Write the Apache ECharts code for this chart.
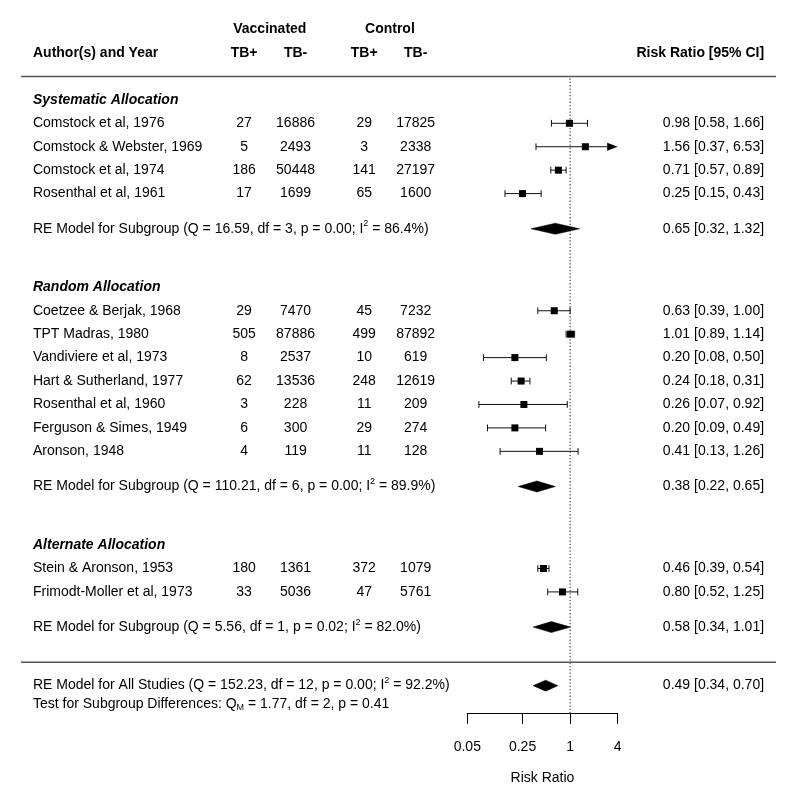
<!DOCTYPE html>
<html><head><meta charset="utf-8">
<script src="https://cdn.jsdelivr.net/npm/echarts@6/dist/echarts.min.js"></script>
<style>html,body{margin:0;padding:0;background:#fff}#c{width:800px;height:812px}</style>
</head><body><div id="c"></div>
<script>
// ---------------- data ----------------
const groups = ["Systematic Allocation", "Random Allocation", "Alternate Allocation"];
const authors = ["Comstock et al, 1976", "Comstock & Webster, 1969", "Comstock et al, 1974", "Rosenthal et al, 1961",
  "Coetzee & Berjak, 1968", "TPT Madras, 1980", "Vandiviere et al, 1973", "Hart & Sutherland, 1977",
  "Rosenthal et al, 1960", "Ferguson & Simes, 1949", "Aronson, 1948",
  "Stein & Aronson, 1953", "Frimodt-Moller et al, 1973"];
const vaccTBpos = [27, 5, 186, 17, 29, 505, 8, 62, 3, 6, 4, 180, 33];
const vaccTBneg = [16886, 2493, 50448, 1699, 7470, 87886, 2537, 13536, 228, 300, 119, 1361, 5036];
const ctrlTBpos = [29, 3, 141, 65, 45, 499, 10, 248, 11, 29, 11, 372, 47];
const ctrlTBneg = [17825, 2338, 27197, 1600, 7232, 87892, 619, 12619, 209, 274, 128, 1079, 5761];
const riskRatio = [0.98, 1.56, 0.71, 0.25, 0.63, 1.01, 0.20, 0.24, 0.26, 0.20, 0.41, 0.46, 0.80];
const ciLower   = [0.58, 0.37, 0.57, 0.15, 0.39, 0.89, 0.08, 0.18, 0.07, 0.09, 0.13, 0.39, 0.52];
const ciUpper   = [1.66, 6.53, 0.89, 0.43, 1.00, 1.14, 0.50, 0.31, 0.92, 0.49, 1.26, 0.54, 1.25];
const subRR    = [0.65, 0.38, 0.58];
const subLower = [0.32, 0.22, 0.34];
const subUpper = [1.32, 0.65, 1.01];
const subQ  = [16.59, 110.21, 5.56];
const subDf = [3, 6, 1];
const subP  = [0.00, 0.00, 0.02];
const subI2 = [86.4, 89.9, 82.0];
const allRR = 0.49, allLower = 0.34, allUpper = 0.70;
const allQ = 152.23, allDf = 12, allP = 0.00, allI2 = 92.2;
const testQM = 1.77, testDf = 2, testP = 0.41;
const axisTicks = [0.05, 0.25, 1, 4];
const colHeaders = ["TB+", "TB-", "TB+", "TB-"];
const armHeaders = ["Vaccinated", "Control"];

// ---------------- layout ----------------
const L = {
  rowY0: 662.2, rowH: 23.43, axisY: 713.4, yMax: 27.6,
  ax0: 467.3, ax1: 617.7, xMin: -16, xMax: 6,
  studyRows: [23, 22, 21, 20, 15, 14, 13, 12, 11, 10, 9, 4, 3],
  groupRows: [24, 16, 5], subRows: [18.5, 7.5, 1.5],
  allRow: -1, testRow: -1.8, headRow: 26, armRow: 27, ruleRows: [25, 0], refTop: 25,
  ilabX: [-9.5, -8, -6, -4.5], armX: [-8.75, -5.25],
  pad: 12, fs: 14, sq: 7, cap: 3.4, arrowLen: 10.5, arrowHalf: 3.9, diaHalf: 5.5
};
L.yMin = -(L.axisY - L.rowY0) / L.rowH;
const FONT = '"Liberation Sans", Arial, Helvetica, sans-serif';
const lnMin = Math.log(axisTicks[0]), lnMax = Math.log(axisTicks[axisTicks.length - 1]);
const SC = (L.ax1 - L.ax0) / (lnMax - lnMin);
const g0Left = L.ax0 - (lnMin - L.xMin) * SC;
const g0Width = (L.xMax - L.xMin) * SC;
const gTop = L.rowY0 - L.yMax * L.rowH;
const gHeight = (L.yMax - L.yMin) * L.rowH;
const tickLn = axisTicks.map(Math.log);

const f2 = v => v.toFixed(2);
const ciText = (e, lo, hi) => f2(e) + " [" + f2(lo) + ", " + f2(hi) + "]";

// ---------------- text items ----------------
const texts = [];
function addText(x, row, text, align, opts) { texts.push(Object.assign({x, row, text, align}, opts || {})); }
armHeaders.forEach((t, i) => addText(L.armX[i], L.armRow, t, 'center', {bold: true}));
colHeaders.forEach((t, i) => addText(L.ilabX[i], L.headRow, t, 'center', {bold: true}));
addText(L.xMin, L.headRow, "Author(s) and Year", 'left', {bold: true, dx: L.pad});
addText(L.xMax, L.headRow, "Risk Ratio [95% CI]", 'right', {bold: true, dx: -L.pad});
groups.forEach((g, i) => addText(L.xMin, L.groupRows[i], g, 'left', {bold: true, italic: true, dx: L.pad}));
authors.forEach((a, i) => {
  const r = L.studyRows[i];
  addText(L.xMin, r, a, 'left', {dx: L.pad});
  [vaccTBpos, vaccTBneg, ctrlTBpos, ctrlTBneg].forEach((arr, j) => addText(L.ilabX[j], r, String(arr[i]), 'center'));
  addText(L.xMax, r, ciText(riskRatio[i], ciLower[i], ciUpper[i]), 'right', {dx: -L.pad});
});
subRR.forEach((v, i) => {
  const r = L.subRows[i];
  addText(L.xMin, r, "RE Model for Subgroup (Q = " + f2(subQ[i]) + ", df = " + subDf[i] + ", p = " + f2(subP[i]) +
    "; I{sup|2} = " + subI2[i].toFixed(1) + "%)", 'left', {dx: L.pad});
  addText(L.xMax, r, ciText(v, subLower[i], subUpper[i]), 'right', {dx: -L.pad});
});
addText(L.xMin, L.allRow, "RE Model for All Studies (Q = " + f2(allQ) + ", df = " + allDf + ", p = " + f2(allP) +
  "; I{sup|2} = " + allI2.toFixed(1) + "%)", 'left', {dx: L.pad});
addText(L.xMax, L.allRow, ciText(allRR, allLower, allUpper), 'right', {dx: -L.pad});
addText(L.xMin, L.testRow, "Test for Subgroup Differences: Q{sub|M} = " + f2(testQM) + ", df = " + testDf + ", p = " + f2(testP), 'left', {dx: L.pad});

const RICH = {
  sup: {fontSize: 9, fontFamily: FONT, fill: '#000', color: '#000', padding: [0, 0, 10, 0]},
  sub: {fontSize: 9, fontFamily: FONT, fill: '#000', color: '#000', padding: [6, 0, 0, 0]}
};

function renderText(params, api) {
  const t = texts[api.value(2)];
  const p = api.coord([api.value(0), api.value(1)]);
  const style = {
    text: t.text, fill: '#000', fontFamily: FONT, fontSize: L.fs,
    fontWeight: t.bold ? 'bold' : 'normal', fontStyle: t.italic ? 'italic' : 'normal',
    align: t.align, verticalAlign: 'middle'
  };
  if (t.text.indexOf('{') >= 0) style.rich = RICH;
  return {type: 'text', x: p[0] + (t.dx || 0), y: p[1], style};
}

function renderRule(params, api) {
  const r = api.value(0);
  const a = api.coord([L.xMin, r]), b = api.coord([L.xMax, r]);
  return {type: 'line', shape: {x1: a[0], y1: a[1], x2: b[0], y2: b[1]}, style: {stroke: '#555', lineWidth: 1.5}};
}

function renderStudy(params, api) {
  const est = api.value(0), row = api.value(1), lo = api.value(2), hi = api.value(3);
  const loC = Math.max(lo, lnMin), hiC = Math.min(hi, lnMax);
  const pE = api.coord([est, row]), pL = api.coord([loC, row]), pH = api.coord([hiC, row]);
  const y = pE[1];
  const st = {stroke: '#111', lineWidth: 1};
  const ch = [];
  const end = hi > lnMax ? pH[0] - L.arrowLen : pH[0];
  ch.push({type: 'line', shape: {x1: pL[0], y1: y, x2: end, y2: y}, style: st});
  if (lo >= lnMin) ch.push({type: 'line', shape: {x1: pL[0], y1: y - L.cap, x2: pL[0], y2: y + L.cap}, style: st});
  if (hi <= lnMax) ch.push({type: 'line', shape: {x1: pH[0], y1: y - L.cap, x2: pH[0], y2: y + L.cap}, style: st});
  else ch.push({type: 'polygon', shape: {points: [[end, y - L.arrowHalf], [pH[0], y], [end, y + L.arrowHalf]]}, style: {fill: '#000'}});
  ch.push({type: 'rect', shape: {x: pE[0] - L.sq / 2, y: y - L.sq / 2, width: L.sq, height: L.sq}, style: {fill: '#000'}});
  return {type: 'group', children: ch};
}

function renderDiamond(params, api) {
  const est = api.value(0), row = api.value(1), lo = api.value(2), hi = api.value(3);
  const pE = api.coord([est, row]), pL = api.coord([lo, row]), pH = api.coord([hi, row]);
  const y = pE[1];
  return {type: 'polygon', shape: {points: [[pL[0], y], [pE[0], y - L.diaHalf], [pH[0], y], [pE[0], y + L.diaHalf]]},
    style: {fill: '#000', stroke: '#000', lineWidth: 0.5}};
}

function renderRef(params, api) {
  const a = api.coord([api.value(0), api.value(1)]), b = api.coord([api.value(0), api.value(2)]);
  return {type: 'line', shape: {x1: a[0], y1: a[1], x2: b[0], y2: b[1]},
    style: {stroke: '#444', lineWidth: 1.2, lineDash: [1.3, 2]}};
}

const studyData = riskRatio.map((v, i) => [Math.log(v), L.studyRows[i], Math.log(ciLower[i]), Math.log(ciUpper[i])]);
const diamondData = subRR.map((v, i) => [Math.log(v), L.subRows[i], Math.log(subLower[i]), Math.log(subUpper[i])])
  .concat([[Math.log(allRR), L.allRow, Math.log(allLower), Math.log(allUpper)]]);

const chart = echarts.init(document.getElementById('c'), null, {renderer: 'canvas'});
chart.setOption({
  animation: false,
  backgroundColor: '#fff',
  grid: [
    {left: g0Left, width: g0Width, top: gTop, height: gHeight, containLabel: false},
    {left: L.ax0, width: L.ax1 - L.ax0, top: gTop, height: gHeight, containLabel: false}
  ],
  xAxis: [
    {gridIndex: 0, type: 'value', min: L.xMin, max: L.xMax, show: false},
    {gridIndex: 1, type: 'value', min: lnMin, max: lnMax, position: 'bottom',
      axisLine: {show: true, onZero: false, lineStyle: {color: '#000', width: 1}},
      axisTick: {show: true, customValues: tickLn, length: 10.5, lineStyle: {color: '#000', width: 1}},
      axisLabel: {show: true, customValues: tickLn, margin: 27, fontSize: L.fs, color: '#000', fontFamily: FONT,
        formatter: v => { const k = tickLn.findIndex(t => Math.abs(t - v) < 1e-6); return k >= 0 ? String(axisTicks[k]) : ''; }},
      splitLine: {show: false},
      name: 'Risk Ratio', nameLocation: 'middle', nameGap: 58,
      nameTextStyle: {fontSize: L.fs, color: '#000', fontFamily: FONT}}
  ],
  yAxis: [
    {gridIndex: 0, type: 'value', min: L.yMin, max: L.yMax, show: false},
    {gridIndex: 1, type: 'value', min: L.yMin, max: L.yMax, show: false}
  ],
  series: [
    {type: 'custom', xAxisIndex: 0, yAxisIndex: 0, clip: false, renderItem: renderRule,
      data: L.ruleRows.map(r => [r]), encode: {x: [], y: 0}},
    {type: 'custom', xAxisIndex: 1, yAxisIndex: 1, clip: false, renderItem: renderRef,
      data: [[Math.log(1), L.yMin, L.refTop]]},
    {type: 'custom', xAxisIndex: 1, yAxisIndex: 1, clip: false, renderItem: renderStudy, data: studyData},
    {type: 'custom', xAxisIndex: 1, yAxisIndex: 1, clip: false, renderItem: renderDiamond, data: diamondData},
    {type: 'custom', xAxisIndex: 0, yAxisIndex: 0, clip: false, renderItem: renderText,
      data: texts.map((t, i) => [t.x, t.row, i])}
  ]
});
</script></body></html>
